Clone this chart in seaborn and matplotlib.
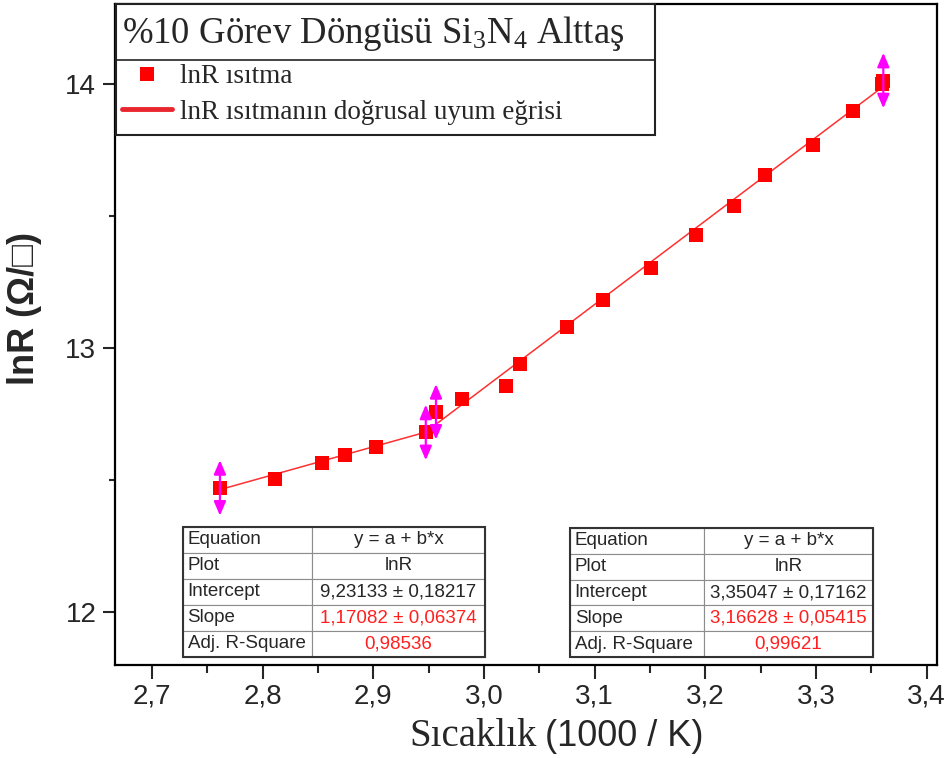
import matplotlib
matplotlib.use("Agg")
import matplotlib.pyplot as plt
import seaborn as sns
from matplotlib.ticker import MultipleLocator, FuncFormatter
from matplotlib.lines import Line2D
from matplotlib.patches import Rectangle

# values (1000/K vs lnR)
inv_temp = [2.7614, 2.8109, 2.8538, 2.8742, 2.9024, 2.9474, 2.9566, 2.9801, 3.0199, 3.0325,
            3.0750, 3.1075, 3.1509, 3.1916, 3.2259, 3.2539, 3.2973, 3.3334, 3.3599, 3.3608]
lnR = [12.471, 12.504, 12.565, 12.594, 12.626, 12.681, 12.759, 12.806, 12.857, 12.940,
       13.081, 13.183, 13.304, 13.429, 13.539, 13.656, 13.770, 13.899, 14.001, 14.014]

# linear fits (Origin result tables)
fit_intercept = [9.23133, 3.35047]
fit_slope = [1.17082, 3.16628]
fit_range = [(0, 5), (6, 19)]   # first / last point index of each fit range

table_rows = ["Equation", "Plot", "Intercept", "Slope", "Adj. R-Square"]
table_left = ["y = a + b*x", "lnR", "9,23133 ± 0,18217", "1,17082 ± 0,06374", "0,98536"]
table_right = ["y = a + b*x", "lnR", "3,35047 ± 0,17162", "3,16628 ± 0,05415", "0,99621"]

x_ticks = [2.7, 2.8, 2.9, 3.0, 3.1, 3.2, 3.3, 3.4]
y_ticks = [12, 13, 14]

sns.set_theme(style="ticks")
plt.rcParams["font.family"] = ["Liberation Sans", "DejaVu Sans"]
plt.rcParams["mathtext.fontset"] = "custom"
plt.rcParams["mathtext.rm"] = "Liberation Serif"

W, H = 952, 758
AX_L, AX_R, AX_T, AX_B = 115, 937, 4, 665

fig = plt.figure(figsize=(W / 100, H / 100), dpi=100)
ax = fig.add_axes([AX_L / W, 1 - AX_B / H, (AX_R - AX_L) / W, (AX_B - AX_T) / H])


def frac(px, py):
    # pixel position -> axes fraction
    return (px - AX_L) / (AX_R - AX_L), (AX_B - py) / (AX_B - AX_T)


# fit lines
for a, b, (i0, i1) in zip(fit_intercept, fit_slope, fit_range):
    xs = [inv_temp[i0], inv_temp[i1]]
    ys = [a + b * v for v in xs]
    sns.lineplot(x=xs, y=ys, color="#ff3030", linewidth=1.1, ax=ax, zorder=2)

sns.scatterplot(x=inv_temp, y=lnR, marker="s", s=112, color="#ff0000", linewidth=0,
                ax=ax, zorder=3, legend=False)

# range markers of the fits
for i0, i1 in fit_range:
    for i in (i0, i1):
        ax.annotate("", xy=(inv_temp[i], lnR[i] + 0.105), xytext=(inv_temp[i], lnR[i] - 0.105),
                    arrowprops=dict(arrowstyle="<|-|>,head_length=0.7,head_width=0.3",
                                    color="#ff00ff", lw=1.6, shrinkA=0, shrinkB=0),
                    zorder=6)

ax.set_xlim(2.6666, 3.4093)
ax.set_ylim(11.80, 14.304)
ax.set_xticks(x_ticks)
ax.set_yticks(y_ticks)
ax.xaxis.set_minor_locator(MultipleLocator(0.05))
ax.yaxis.set_minor_locator(MultipleLocator(0.5))
ax.xaxis.set_major_formatter(FuncFormatter(lambda v, p: f"{v:.1f}".replace(".", ",")))
ax.set_xlabel("")
ax.set_ylabel("")
ax.tick_params(axis="x", which="major", length=10, width=1.5, labelsize=20, pad=3)
ax.tick_params(axis="x", which="minor", length=5.5, width=1.5)
ax.tick_params(axis="y", which="major", length=8.5, width=1.5, labelsize=20, pad=5)
ax.tick_params(axis="y", which="minor", length=4, width=1.5)
for s in ax.spines.values():
    s.set_linewidth(1.6)
    s.set_color("black")

# title + legend box
bx0, by0 = frac(116, 135)
bx1, by1 = frac(655, 4)
ax.add_patch(Rectangle((bx0, by0), bx1 - bx0, by1 - by0, transform=ax.transAxes,
                       facecolor="white", edgecolor="#222222", lw=1.5, zorder=4, clip_on=False))
dy = frac(0, 60)[1]
ax.add_line(Line2D([bx0, bx1], [dy, dy], transform=ax.transAxes, color="#222222", lw=1.2, zorder=4))
ax.text(*frac(122, 43), "%10 Görev Döngüsü Si$\\mathregular{_3}$N$\\mathregular{_4}$ Alttaş",
        transform=ax.transAxes, fontfamily="Liberation Serif", fontsize=26.5, va="baseline", zorder=6)

handles = [Line2D([], [], marker="s", ls="none", color="#ff0000", markersize=10.6, markeredgewidth=0),
           Line2D([], [], color="#e8262d", lw=3.5)]
ax.legend(handles, ["lnR ısıtma", "lnR ısıtmanın doğrusal uyum eğrisi"], loc="upper left",
          bbox_to_anchor=frac(122, 64), frameon=False,
          prop={"family": "Liberation Serif", "size": 19.5},
          handlelength=1.85, handletextpad=0.3, labelspacing=0.4, borderpad=0, borderaxespad=0)


def add_table(values, px0, psplit, px1, py0, py1):
    x0, y0 = frac(px0, py1)
    x1, y1 = frac(px1, py0)
    cells = [[r, v] for r, v in zip(table_rows, values)]
    tb = ax.table(cellText=cells, colWidths=[psplit - px0, px1 - psplit],
                  bbox=[x0, y0, x1 - x0, y1 - y0], cellLoc="center")
    tb.auto_set_font_size(False)
    for (r, c), cell in tb.get_celld().items():
        cell.set_edgecolor("#8c8c8c")
        cell.set_linewidth(0.8)
        t = cell.get_text()
        t.set_fontsize(13.5)
        t.set_fontfamily("Liberation Sans")
        if c == 0:
            cell._loc = "left"
            cell.PAD = 0.035
            t.set_horizontalalignment("left")
        elif r >= 3:
            t.set_color("#ff1f1f")
    ax.add_patch(Rectangle((x0, y0), x1 - x0, y1 - y0, transform=ax.transAxes, fill=False,
                           edgecolor="#333333", lw=1.5, zorder=10))


add_table(table_left, 183, 312, 485, 527, 657)
add_table(table_right, 570, 704, 873, 528, 657)

# axis labels
fig.text(24 / W, 1 - 309 / H, "lnR (Ω/□)", rotation=90, ha="center", va="center",
         fontsize=26, fontweight="bold", family=["Liberation Sans", "DejaVu Sans"])
fig.text(409 / W, 1 - 746 / H, "Sıcaklık", family="Liberation Serif", fontsize=28, va="baseline")
fig.text(545 / W, 1 - 746 / H, "(1000 / K)", fontsize=26, va="baseline")

fig.savefig("out.png", dpi=100)
